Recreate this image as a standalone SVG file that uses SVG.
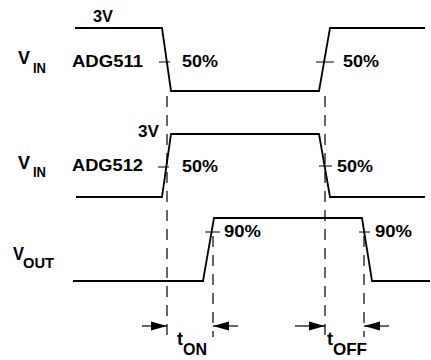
<svg xmlns="http://www.w3.org/2000/svg" width="431" height="360" viewBox="0 0 431 360">
<style>
.w{fill:none;stroke:#000;stroke-width:1.8}
.tk{fill:none;stroke:#000;stroke-width:1}
.d{fill:none;stroke:#000;stroke-width:1.2;stroke-dasharray:11 8}
.a{fill:none;stroke:#000;stroke-width:1.2}
text{font-family:"Liberation Sans",Arial,sans-serif;font-weight:bold;fill:#000}
.m{font-size:17px}
.v{font-size:18px}
.s{font-size:14px}
</style>
<defs>
<marker id="ah" markerUnits="userSpaceOnUse" markerWidth="16" markerHeight="10" viewBox="0 0 16 10" refX="16" refY="5" orient="auto">
<path d="M0,0.5 L16,5 L0,9.5 Z" fill="#000"/>
</marker>
</defs>
<rect width="431" height="360" fill="#fff"/>
<g id="vin-adg511">
<path class="w" d="M75,28 H162 L171,91 H319 L330,28 H425"/>
<path class="tk" d="M159,62 H170 M316,62 H334"/>
<text x="93" y="22" class="m" textLength="20" lengthAdjust="spacingAndGlyphs">3V</text>
<text x="18" y="64" class="v">V</text>
<text x="33" y="73" class="s" textLength="13" lengthAdjust="spacingAndGlyphs">IN</text>
<text x="72" y="67" class="m" textLength="71" lengthAdjust="spacingAndGlyphs">ADG511</text>
<text x="182" y="67" class="m" textLength="36" lengthAdjust="spacingAndGlyphs">50%</text>
<text x="343" y="67" class="m" textLength="36" lengthAdjust="spacingAndGlyphs">50%</text>
</g>
<g id="vin-adg512">
<path class="w" d="M76,197 H162 L171,134 H319 L330,197 H425"/>
<path class="tk" d="M158,167 H169 M319,166 H332"/>
<text x="138" y="137" class="m" textLength="21" lengthAdjust="spacingAndGlyphs">3V</text>
<text x="18" y="169" class="v">V</text>
<text x="33" y="177" class="s" textLength="13" lengthAdjust="spacingAndGlyphs">IN</text>
<text x="72" y="171" class="m" textLength="71" lengthAdjust="spacingAndGlyphs">ADG512</text>
<text x="182" y="172" class="m" textLength="36" lengthAdjust="spacingAndGlyphs">50%</text>
<text x="337" y="172" class="m" textLength="36" lengthAdjust="spacingAndGlyphs">50%</text>
</g>
<g id="vout">
<path class="w" d="M73,281 H203 L214,218 H362 L372,281 H430"/>
<path class="tk" d="M205,232 H220 M359,232 H370"/>
<text x="13" y="260" class="v" textLength="11" lengthAdjust="spacingAndGlyphs">V</text>
<text x="23" y="268" style="font-size:15px" textLength="31" lengthAdjust="spacingAndGlyphs">OUT</text>
<text x="224" y="237" class="m" textLength="37" lengthAdjust="spacingAndGlyphs">90%</text>
<text x="375" y="237" class="m" textLength="37" lengthAdjust="spacingAndGlyphs">90%</text>
</g>
<g id="connectors">
<path class="d" d="M167,96 V337"/>
<path class="d" d="M325,96 V337"/>
<path class="d" d="M213,236 V337"/>
<path class="d" d="M364,236 V337"/>
<path class="a" d="M142,326 H167" marker-end="url(#ah)"/>
<path class="a" d="M238,326 H213" marker-end="url(#ah)"/>
<path class="a" d="M295,326 H325" marker-end="url(#ah)"/>
<path class="a" d="M389,326 H364" marker-end="url(#ah)"/>
</g>
<g id="timing-labels">
<text x="177" y="345" class="v">t</text>
<text x="183" y="355" class="m" textLength="24" lengthAdjust="spacingAndGlyphs">ON</text>
<text x="327" y="345" class="v">t</text>
<text x="333" y="355" class="m" textLength="34" lengthAdjust="spacingAndGlyphs">OFF</text>
</g>
</svg>
